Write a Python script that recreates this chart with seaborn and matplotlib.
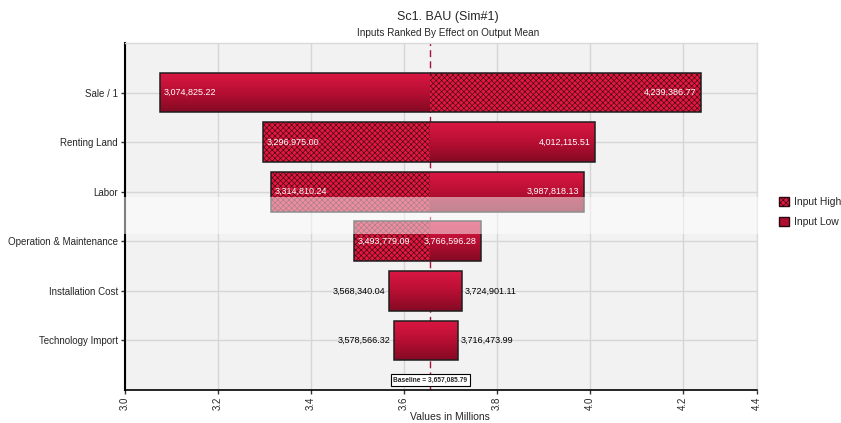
import numpy as np
import pandas as pd
import matplotlib
matplotlib.use("Agg")
import matplotlib.pyplot as plt
import seaborn as sns
from matplotlib.patches import Patch, Rectangle
from matplotlib.colors import LinearSegmentedColormap

# ---------------- data ----------------
categories = ["Sale / 1", "Renting Land", "Labor", "Operation & Maintenance",
              "Installation Cost", "Technology Import"]
low_values = [3074825.22, 3296975.00, 3314810.24, 3493779.09, 3568340.04, 3578566.32]
high_values = [4239386.77, 4012115.51, 3987818.13, 3766596.28, 3724901.11, 3716473.99]
baseline = 3657085.79
# side of each bar drawn with the "Input High" pattern
high_side = ["right", "left", "left", "left", "none", "none"]
x_ticks = [3.0, 3.2, 3.4, 3.6, 3.8, 4.0, 4.2]
x_tick_labels = ["3.0", "3.2", "3.4", "3.6", "3.8", "4.0", "4.2"]
x_end = 4.36
x_end_label = "4.4"
legend_labels = ["Input High", "Input Low"]

# ---------------- style ----------------
sns.set_theme(style="white")
plt.rcParams['font.family'] = ['Liberation Sans', 'DejaVu Sans']
plt.rcParams['hatch.linewidth'] = 0.45

W, H = 841, 423
fig = plt.figure(figsize=(W / 100, H / 100), dpi=100)
ax = fig.add_axes([125 / W, 33 / H, 632 / W, 347 / H])
ax.set_facecolor('#F2F2F2')

base_m = baseline / 1e6
df = pd.DataFrame({
    "cat": categories,
    "left_w": np.array(low_values) / 1e6 - base_m,
    "right_w": np.array(high_values) / 1e6 - base_m,
})

BAR_W = 0.8
bar_kw = dict(orient="y", color="#B00E30", width=BAR_W, errorbar=None, ax=ax,
              edgecolor="#1e1e1e", linewidth=1.0, left=base_m, zorder=3)
sns.barplot(data=df, y="cat", x="left_w", **bar_kw)
sns.barplot(data=df, y="cat", x="right_w", **bar_kw)

patches = list(ax.patches)
left_patches = patches[:6]
right_patches = patches[6:12]

cmap = LinearSegmentedColormap.from_list("g", ["#DA1743", "#B80F33", "#850A24"])
hatch_face = "#E3173F"
hatch_col = "#3a0812"
HATCH = "xxxxxx"


def gradient_fill(p):
    x0, w, y0, h = p.get_x(), p.get_width(), p.get_y(), p.get_height()
    xa, xb = sorted([x0, x0 + w])
    grad = np.linspace(0, 1, 64).reshape(-1, 1)
    im = ax.imshow(grad, cmap=cmap, aspect="auto", extent=(xa, xb, y0 + h, y0),
                   origin="upper", zorder=2.9, interpolation="bilinear")
    im.set_clip_path(p)
    p.set_facecolor("none")
    p.set_linewidth(0)
    p.set_zorder(3.2)


def hatch_fill(p):
    p.set_facecolor(hatch_face)
    p.set_hatch(HATCH)
    p.set_edgecolor(hatch_col)
    p.set_linewidth(0)


for i in range(6):
    lp, rp = left_patches[i], right_patches[i]
    if high_side[i] == "left":
        hatch_fill(lp)
        gradient_fill(rp)
    elif high_side[i] == "right":
        gradient_fill(lp)
        hatch_fill(rp)
    else:
        gradient_fill(lp)
        gradient_fill(rp)

# outline of each whole bar (from the data extents)
for i in range(6):
    lo, hi = low_values[i] / 1e6, high_values[i] / 1e6
    ax.add_patch(Rectangle((lo, i - BAR_W / 2), hi - lo, BAR_W, fill=False,
                           ec="#1e1e1e", lw=1.1, zorder=4))

# value labels
for i in range(6):
    lo, hi = low_values[i] / 1e6, high_values[i] / 1e6
    lo_txt = f"{low_values[i]:,.2f}"
    hi_txt = f"{high_values[i]:,.2f}"
    if i < 4:
        ax.annotate(lo_txt, (lo, i), xytext=(2.5, 0), textcoords="offset points",
                    ha="left", va="center", color="white", fontsize=6.5, zorder=6)
        ax.annotate(hi_txt, (hi, i), xytext=(-3.5, 0), textcoords="offset points",
                    ha="right", va="center", color="white", fontsize=6.5, zorder=6)
    else:
        ax.annotate(lo_txt, (lo, i), xytext=(-2.5, 0), textcoords="offset points",
                    ha="right", va="center", color="black", fontsize=6.5, zorder=6)
        ax.annotate(hi_txt, (hi, i), xytext=(2, 0), textcoords="offset points",
                    ha="left", va="center", color="black", fontsize=6.5, zorder=6)

# baseline
ax.axvline(base_m, color="#A3123A", ls=(0, (5, 3)), lw=1, zorder=2.5)
ax.text(base_m, 5.8, f"Baseline = {baseline:,.2f}", ha="center", va="center",
        fontsize=4.8, fontweight="bold", zorder=7,
        bbox=dict(boxstyle="square,pad=0.35", fc="white", ec="black", lw=0.8))

# axes
ax.set_xlim(3.0, x_end)
ax.set_ylim(6, -1)
ax.set_xticks(x_ticks + [x_end])
ax.set_xticklabels(x_tick_labels + [x_end_label], rotation=90, fontsize=7)
ax.set_yticks(range(6))
ax.set_yticklabels(categories, fontsize=7)
ax.set_xlabel("")
ax.set_ylabel("")
ax.tick_params(bottom=True, left=True, direction="out", length=3, width=1,
               color="#333333", pad=2)
ax.grid(True, color="#D6D6D6", lw=1)
ax.set_axisbelow(True)
ax.spines["left"].set_color("black")
ax.spines["left"].set_linewidth(1.5)
ax.spines["bottom"].set_color("black")
ax.spines["bottom"].set_linewidth(1.2)
for s in ("top", "right"):
    ax.spines[s].set_color("#DADADA")
    ax.spines[s].set_linewidth(1)

# titles
fig.text(448 / W, 1 - 17 / H, "Sc1. BAU (Sim#1)", ha="center", va="center", fontsize=9)
fig.text(448 / W, 1 - 33 / H, "Inputs Ranked By Effect on Output Mean",
         ha="center", va="center", fontsize=7.2)
fig.text(450 / W, 1 - 417 / H, "Values in Millions", ha="center", va="center",
         fontsize=7.5)

# legend
handles = [Patch(fc=hatch_face, hatch=HATCH, ec="#2a0610", lw=1, label=legend_labels[0]),
           Patch(fc="#B00E30", ec="#2a0610", lw=1, label=legend_labels[1])]
fig.legend(handles=handles, loc="upper left", bbox_to_anchor=(779 / W, 1 - 197 / H),
           frameon=False, fontsize=7.5, handlelength=1.0, handleheight=1.0,
           handletextpad=0.4, labelspacing=0.9, borderaxespad=0, borderpad=0)

# translucent band present in the reference
fig.patches.append(Rectangle((0, 1 - 234 / H), 775 / W, 37 / H,
                             transform=fig.transFigure, fc="white", ec="none",
                             alpha=0.5, zorder=20))

fig.savefig("out.png", dpi=100)
